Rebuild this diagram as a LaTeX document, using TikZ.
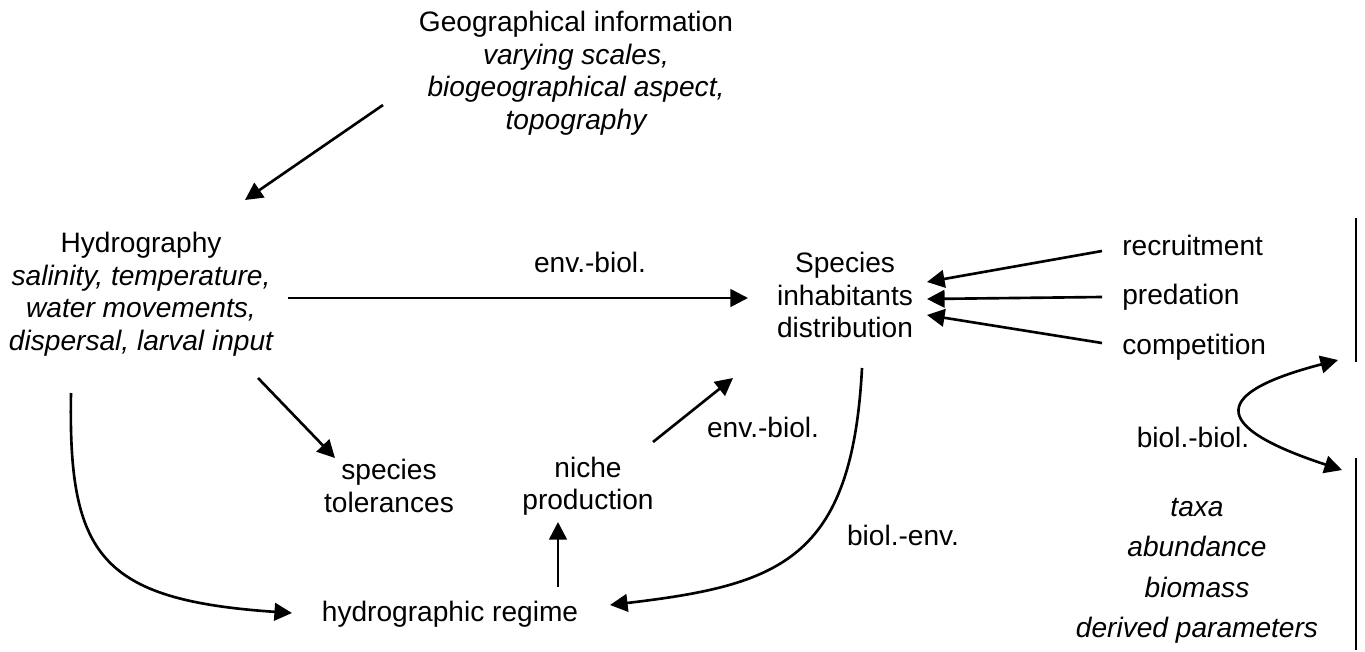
\documentclass[tikz,border=0pt]{standalone}
\usepackage{fontspec}
\setmainfont{Liberation Sans}
\usetikzlibrary{calc}
\usetikzlibrary{arrows.meta}

\begin{document}
\begin{tikzpicture}[
    x=0.02cm, y=-0.02cm,
    label text/.style={align=center, inner sep=0pt, font=\fontsize{16}{18.5}\selectfont},
    link/.style={draw, line width=1.5pt, -{Triangle[length=10pt, width=10pt]}},
    bar/.style={draw, line width=1.2pt}
]
\useasboundingbox (0,0) rectangle (1365,652);

% Define node positions
\node[label text] (geo) at (576,73) {Geographical information\\ \itshape varying scales,\\ \itshape biogeographical aspect,\\ \itshape topography};
\node[label text] (hydro) at (141,294) {Hydrography\\ \itshape salinity, temperature,\\ \itshape water movements,\\ \itshape dispersal, larval input};
\node[label text] (species) at (845,295) {Species\\ inhabitants\\ distribution};
\node[label text, anchor=west] (recruit) at (1122,245) {recruitment};
\node[label text, anchor=west] (predation) at (1122,297) {predation};
\node[label text, anchor=west] (competition) at (1122,347) {competition};
\node[label text] (tolerance) at (389,486) {species\\ tolerances};
\node[label text] (niche) at (588,486) {niche\\ production};
\node[label text] (regime) at (450,614) {hydrographic regime};
\node[label text, font=\fontsize{16}{23}\selectfont] (measures) at (1197,571) {\itshape taxa\\ \itshape abundance\\ \itshape biomass\\ \itshape derived parameters};

% Add relation labels
\node[label text] (envbiolA) at (590,262) {env.-biol.};
\node[label text] (envbiolB) at (763,427) {env.-biol.};
\node[label text] (biolenv) at (903,535) {biol.-env.};
\node[label text] (biolbiol) at (1193,437) {biol.-biol.};

% Draw side bars
\coordinate (bartopA) at (1356,218);
\coordinate (barbotA) at (1356,362);
\coordinate (bartopB) at (1356,458);
\coordinate (barbotB) at (1356,650);
\draw[bar] (bartopA) -- (barbotA);
\draw[bar] (bartopB) -- (barbotB);

% Draw arrows
\draw[link] ($(geo)+(-193,32)$) -- ($(hydro)+(104,-94)$);
\draw[link] ($(hydro)+(147,4)$) -- ($(species)+(-97,3)$);
\draw[link] ($(recruit.west)+(-20,6)$) -- ($(species)+(82,-13)$);
\draw[link] ($(predation.west)+(-20,0)$) -- ($(species)+(82,4)$);
\draw[link] ($(competition.west)+(-20,-4)$) -- ($(species)+(82,20)$);
\draw[link] ($(hydro)+(117,84)$) -- ($(tolerance)+(-54,-28)$);
\draw[link] ($(niche)+(65,-44)$) -- ($(species)+(-112,83)$);
\draw[link] ($(regime)+(108,-27)$) -- ($(niche)+(-30,36)$);
\draw[link] ($(hydro)+(-70,99)$) .. controls (68,555) and (100,600) .. ($(regime)+(-158,-1)$);
\draw[link] ($(species)+(17,73)$) .. controls (852,560) and (780,585) .. ($(regime)+(160,-9)$);
\draw[link, {Triangle[length=10pt, width=10pt]}-{Triangle[length=10pt, width=10pt]}]
    ($(barbotA)+(-18,-2)$) .. controls (1215,392) and (1205,425) .. ($(bartopB)+(-14,12)$);

\end{tikzpicture}
\end{document}
